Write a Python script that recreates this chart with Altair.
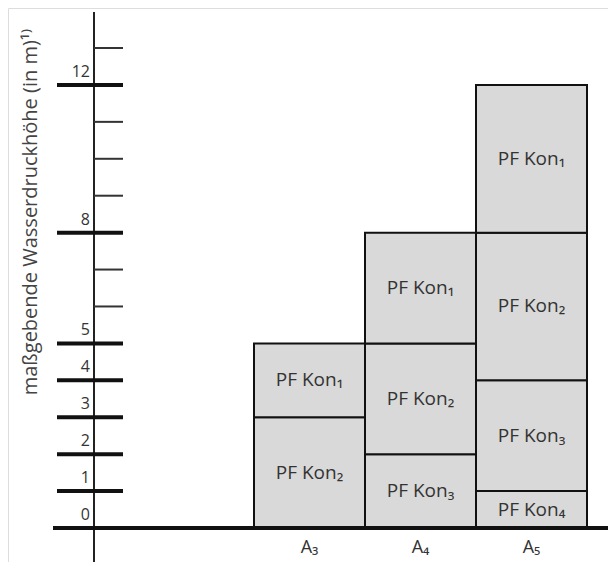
import altair as alt
import pandas as pd

# ---- data ----
categories = ["A₃", "A₄", "A₅"]
seg_column = ["A₃", "A₃", "A₄", "A₄", "A₄", "A₅", "A₅", "A₅", "A₅"]
seg_label = ["PF Kon₂", "PF Kon₁", "PF Kon₃", "PF Kon₂", "PF Kon₁",
             "PF Kon₄", "PF Kon₃", "PF Kon₂", "PF Kon₁"]
seg_bottom = [0, 3, 0, 2, 5, 0, 1, 4, 8]
seg_top = [3, 5, 2, 5, 8, 1, 4, 8, 12]

major_ticks = [1, 2, 3, 4, 5, 8, 12]
minor_ticks = [6, 7, 9, 10, 11, 13]
tick_labels = [0, 1, 2, 3, 4, 5, 8, 12]
axis_title = "maßgebende Wasserdruckhöhe (in m)¹⁾"

FONT = "Open Sans"

segs = pd.DataFrame({"col": seg_column, "label": seg_label,
                     "y0": seg_bottom, "y1": seg_top})
segs["mid"] = (segs["y0"] + segs["y1"]) / 2
cats_df = pd.DataFrame({"col": categories})
major_df = pd.DataFrame({"v": major_ticks})
minor_df = pd.DataFrame({"v": minor_ticks})
lab_df = pd.DataFrame({"v": tick_labels, "t": [str(v) for v in tick_labels]})

H = 554
yscale = alt.Scale(domain=[-0.921, 14.084], nice=False, zero=False)
xscale = alt.Scale(domain=categories, range=[246, 579], paddingInner=0, paddingOuter=0)

bars = alt.Chart(segs).mark_rect(fill="#d9d9d9", stroke="#111111", strokeWidth=2).encode(
    x=alt.X("col:N", scale=xscale, axis=None),
    y=alt.Y("y0:Q", scale=yscale, axis=None),
    y2="y1:Q",
)

bar_text = alt.Chart(segs).mark_text(font=FONT, fontSize=19, color="#333333").encode(
    x=alt.X("col:N", scale=xscale, axis=None),
    y=alt.Y("mid:Q", scale=yscale, axis=None),
    text="label:N",
)

cat_text = alt.Chart(cats_df).mark_text(font=FONT, fontSize=18, color="#333333",
                                        baseline="alphabetic").encode(
    x=alt.X("col:N", scale=xscale, axis=None),
    y=alt.value(545),
    text="col:N",
)

axis_line = alt.Chart(cats_df).mark_rule(color="#222222", strokeWidth=2).encode(
    x=alt.value(86), y=alt.value(4), y2=alt.value(H)
)

major = alt.Chart(major_df).mark_rule(color="#111111", strokeWidth=4).encode(
    x=alt.value(49), x2=alt.value(115),
    y=alt.Y("v:Q", scale=yscale, axis=None),
)

minor = alt.Chart(minor_df).mark_rule(color="#333333", strokeWidth=2).encode(
    x=alt.value(86), x2=alt.value(115),
    y=alt.Y("v:Q", scale=yscale, axis=None),
)

baseline = alt.Chart(pd.DataFrame({"v": [0]})).mark_rule(color="#111111", strokeWidth=4).encode(
    x=alt.value(45), x2=alt.value(600),
    y=alt.Y("v:Q", scale=yscale, axis=None),
)

labels = alt.Chart(lab_df).mark_text(font=FONT, fontSize=16, color="#333333",
                                     align="right", baseline="alphabetic", dy=-8).encode(
    x=alt.value(82),
    y=alt.Y("v:Q", scale=yscale, axis=None),
    text="t:N",
)

title = alt.Chart(cats_df.head(1)).mark_text(font=FONT, fontSize=20, color="#444444",
                                             angle=270, align="center", baseline="middle").encode(
    x=alt.value(23), y=alt.value(204), text=alt.value(axis_title)
)

chart = alt.layer(bars, bar_text, cat_text, axis_line, major, minor, baseline, labels, title).properties(
    width=600, height=H, padding=0,
    autosize=alt.AutoSizeParams(type="none"),
).configure_view(stroke="transparent", strokeWidth=0).configure(background="white")

chart.save("out.html", embed_options={"renderer": "svg", "actions": False})
